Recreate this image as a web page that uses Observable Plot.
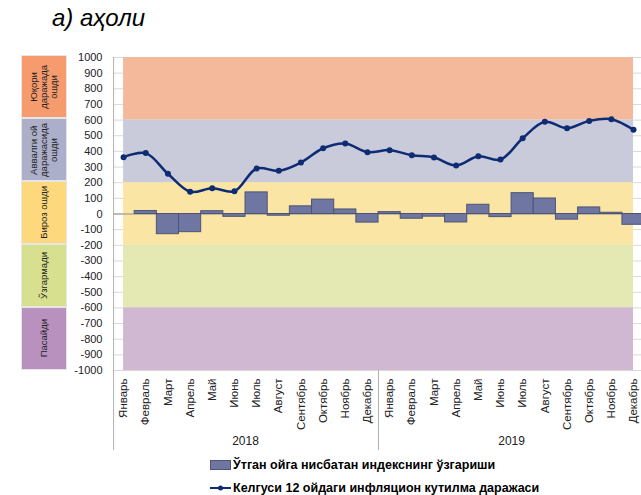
<!DOCTYPE html>
<html>
<head>
<meta charset="utf-8">
<script src="https://cdn.jsdelivr.net/npm/d3@7"></script>
<script src="https://cdn.jsdelivr.net/npm/@observablehq/plot@0.6"></script>
<style>
  html, body { margin: 0; padding: 0; background: #fff; }
  #wrap { position: relative; width: 641px; height: 495px; overflow: hidden; font-family: "Liberation Sans Narrow", "Arial Narrow", "Liberation Sans", Arial, sans-serif; }
  #title { position: absolute; left: 52px; top: 4px; font-family: "Liberation Sans", Arial, sans-serif; font-style: italic; font-size: 24px; color: #000; }
  .box { position: absolute; left: 21px; width: 46px; display: flex; align-items: center; justify-content: center; box-sizing: border-box; border: 1px solid #e6e6e6; }
  .box span { writing-mode: vertical-rl; transform: rotate(180deg); font-size: 9.5px; line-height: 10px; text-align: center; color: #222; font-family: "Liberation Sans", Arial, sans-serif; }
  .legend { position: absolute; left: 210px; font-weight: bold; font-size: 12.5px; color: #000; display: flex; align-items: center; white-space: nowrap; }
  .legend svg { margin-right: 2px; }
  svg.plot { position: absolute; left: 0; top: 0; }
</style>
</head>
<body>
<div id="wrap">
  <div id="title">а) аҳоли</div>
</div>
<script>
// ---- data ----
const years = ["2018", "2019"];
const monthNames = ["Январь","Февраль","Март","Апрель","Май","Июнь","Июль","Август","Сентябрь","Октябрь","Ноябрь","Декабрь"];
// change vs previous month (bars)
const indexChange = [0, 19, -129, -116, 18, -18, 138, -11, 49, 92, 29, -55,
                     12, -30, -17, -54, 59, -20, 133, 99, -36, 42, 8, -69];
// inflation expectations for next 12 months (line)
const expectations = [363, 389, 257, 142, 165, 146, 291, 276, 329, 420, 450, 395,
                      408, 376, 361, 310, 369, 348, 484, 589, 548, 595, 606, 538];
const yTicks = d3.range(-1000, 1001, 100);
const bandEdges = [600, 200, -200, -600];
const bandLabels = ["Юқори\nдаражада\nошди", "Аввалги ой\nдаражасида\nошди", "Бироз ошди", "Ўзгармади", "Пасайди"];
const bandColors = ["#f4b99b", "#c9cbdb", "#fbe5a4", "#e4e8b2", "#d0b8d3"];
const boxColors = ["#f59b6e", "#abafc9", "#fdd87c", "#d6e08f", "#b891bf"];
const legendLabels = ["Ўтган ойга нисбатан индекснинг ўзгариши", "Келгуси 12 ойдаги инфляцион кутилма даражаси"];

// ---- derived tables ----
const rows = indexChange.map((v, i) => ({i, change: v, exp: expectations[i]}));
const edges = [1000, ...bandEdges, -1000];
const bands = bandColors.map((c, k) => ({top: edges[k], bottom: edges[k + 1], fill: c}));

const barFill = "#6e76a1";
const barStroke = "#4d5475";
const lineColor = "#0d2c74";

const chart = Plot.plot({
  width: 641,
  height: 495,
  marginLeft: 112,
  marginRight: 0,
  marginTop: 57,
  marginBottom: 125,
  style: {fontFamily: '"Liberation Sans Narrow", "Arial Narrow", "Liberation Sans", Arial, sans-serif', background: "transparent"},
  x: {domain: [-0.5, 23.36], axis: null, label: null},
  y: {domain: [-1000, 1000], axis: null, label: null},
  marks: [
    Plot.ruleY(yTicks, {x1: -0.45, x2: 23.36, stroke: "#d9d9d9", strokeWidth: 1}),
    Plot.rect(bands, {x1: 0, x2: 23, y1: "bottom", y2: "top", fill: "fill"}),
    Plot.ruleY([0], {x1: -0.45, x2: 23.36, stroke: "#8a8a8a", strokeWidth: 1}),
    Plot.rectY(rows, {x1: d => d.i - 0.5, x2: d => d.i + 0.5, y: "change", fill: barFill, stroke: barStroke, strokeWidth: 1}),
    Plot.line(rows, {x: "i", y: "exp", curve: "catmull-rom", stroke: lineColor, strokeWidth: 2.5}),
    Plot.dot(rows, {x: "i", y: "exp", r: 3, fill: lineColor}),
    Plot.ruleX([-0.45], {y1: -1511, y2: 1000, stroke: "#b0b0b0"}),
    Plot.ruleX([11.5], {y1: -1511, y2: -1000, stroke: "#b0b0b0"}),
    Plot.axisY(yTicks, {anchor: "left", label: null, tickSize: 0, tickPadding: 10, fontSize: 11, tickFormat: d => String(d), color: "#222"}),
    Plot.axisX(d3.range(24), {anchor: "bottom", label: null, tickSize: 0, tickPadding: 8, tickRotate: -90, fontSize: 11.5,
      tickFormat: i => monthNames[i % 12], color: "#222"}),
    Plot.text(years, {x: (d, k) => 5.5 + 12 * k, y: -1000, dy: 71, text: d => d, fontSize: 12, fill: "#222"})
  ]
});
chart.classList.add("plot");
const wrap = document.getElementById("wrap");
wrap.appendChild(chart);

// left label boxes
const boxTops = [55, 118, 181, 244, 307];
bandLabels.forEach((t, k) => {
  const d = document.createElement("div");
  d.className = "box";
  d.style.top = boxTops[k] + "px";
  d.style.height = ((k < 4 ? boxTops[k + 1] : 370) - boxTops[k]) + "px";
  d.style.background = boxColors[k];
  const s = document.createElement("span");
  s.innerHTML = t.replace(/\n/g, "<br>");
  d.appendChild(s);
  wrap.appendChild(d);
});

// legend
const lg1 = document.createElement("div");
lg1.className = "legend";
lg1.style.top = "458px";
lg1.innerHTML = `<svg width="21" height="10"><rect x="0.5" y="0.5" width="20" height="9" fill="${barFill}" stroke="${barStroke}"/></svg>${legendLabels[0]}`;
wrap.appendChild(lg1);
const lg2 = document.createElement("div");
lg2.className = "legend";
lg2.style.top = "481px";
lg2.innerHTML = `<svg width="21" height="10"><line x1="0" x2="21" y1="5" y2="5" stroke="${lineColor}" stroke-width="2"/><circle cx="10.5" cy="5" r="2.5" fill="${lineColor}"/></svg>${legendLabels[1]}`;
wrap.appendChild(lg2);
</script>
</body>
</html>
